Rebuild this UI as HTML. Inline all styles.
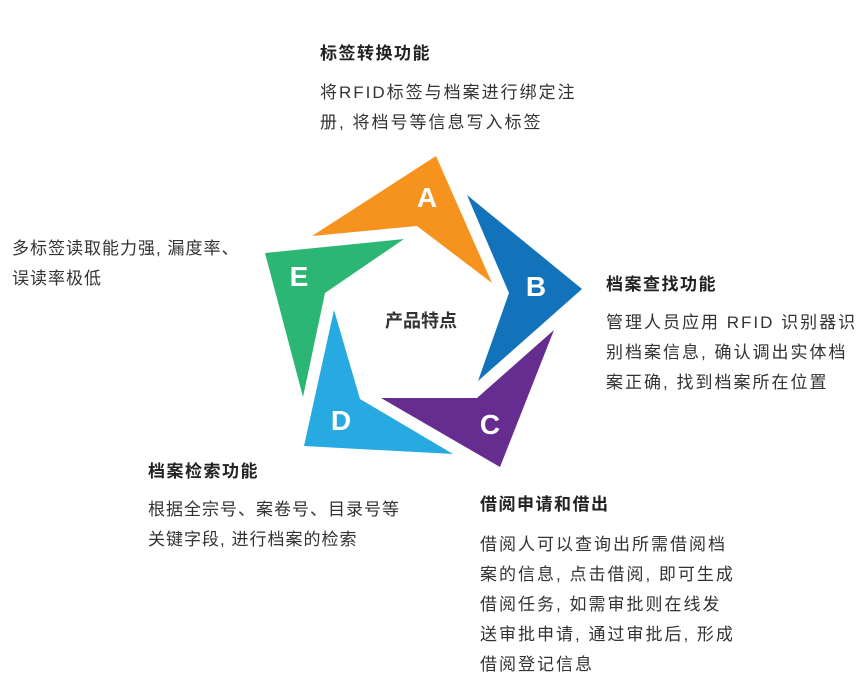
<!DOCTYPE html>
<html><head><meta charset="utf-8"><style>
body{margin:0;width:867px;height:680px;background:#fff;position:relative;overflow:hidden;font-family:"Liberation Sans","Noto Sans CJK SC",sans-serif;color:#333}
.t{position:absolute;white-space:nowrap;font-size:17px;line-height:30px;letter-spacing:2px}
.h{font-weight:bold;color:#222;letter-spacing:1.5px}
.c{letter-spacing:0}
svg{position:absolute;left:0;top:0}
</style></head><body>
<svg width="867" height="680">
<polygon points="312,236 436,156 492,283 417,226" fill="#f6921e"/>
<polygon points="467,195 582,289 478,381 509,293" fill="#1273bb"/>
<polygon points="554,330 500,467 381,398 477,398" fill="#662d91"/>
<polygon points="334,310 360,399 453,454 304,446" fill="#27aae1"/>
<polygon points="404,239 265,253 303,397 325,293" fill="#2bb673"/>
<g font-family="Liberation Sans,sans-serif" font-weight="bold" font-size="28" fill="#fff" text-anchor="middle">
<text x="427" y="207">A</text><text x="536" y="296">B</text><text x="490" y="434">C</text><text x="341" y="430">D</text><text x="299" y="286">E</text>
</g>
<text x="421" y="327" text-anchor="middle" font-family="Liberation Sans,Noto Sans CJK SC,sans-serif" font-size="18" font-weight="bold" fill="#333">产品特点</text>
</svg>
<div class="t h" style="left:320px;top:39px">标签转换功能</div>
<div class="t" style="left:320px;top:78px">将RFID标签与档案进行绑定注<br>册, 将档号等信息写入标签</div>
<div class="t" style="left:12px;top:234px;letter-spacing:1px">多标签读取能力强, 漏度率、<br>误读率极低</div>
<div class="t h" style="left:606px;top:270px">档案查找功能</div>
<div class="t" style="left:606px;top:308px">管理人员应用 RFID 识别器识<br>别档案信息, 确认调出实体档<br>案正确, 找到档案所在位置</div>
<div class="t h" style="left:148px;top:457px">档案检索功能</div>
<div class="t" style="left:148px;top:495px;letter-spacing:1px">根据全宗号、案卷号、目录号等<br>关键字段, 进行档案的检索</div>
<div class="t h" style="left:480px;top:490px">借阅申请和借出</div>
<div class="t" style="left:480px;top:530px">借阅人可以查询出所需借阅档<br>案的信息, 点击借阅, 即可生成<br>借阅任务, 如需审批则在线发<br>送审批申请, 通过审批后, 形成<br>借阅登记信息</div>
</body></html>
